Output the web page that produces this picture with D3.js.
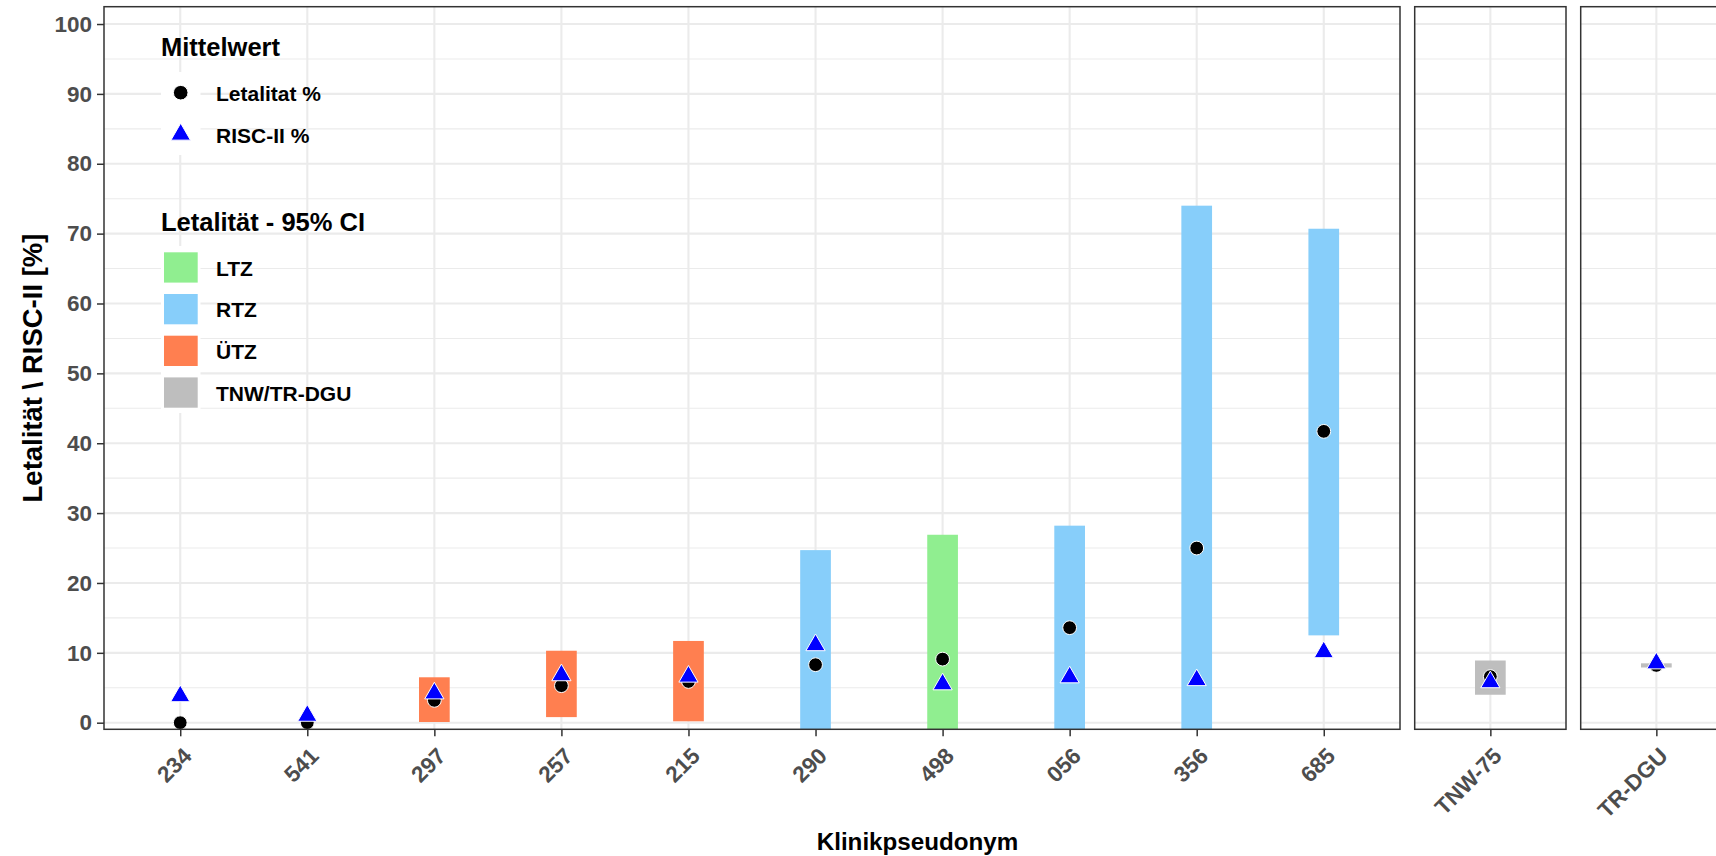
<!DOCTYPE html>
<html>
<head>
<meta charset="utf-8">
<script src="https://cdn.jsdelivr.net/npm/d3@7"></script>
<style>
  html, body { margin: 0; padding: 0; background: #fff; }
  svg { display: block; font-family: "Liberation Sans", Arial, sans-serif; }
</style>
</head>
<body>
<svg id="chart" width="1716" height="856"></svg>
<script>
// ---- data ----
const categories = ["234", "541", "297", "257", "215", "290", "498", "056", "356", "685", "TNW-75", "TR-DGU"];
const panelOf    = [0, 0, 0, 0, 0, 0, 0, 0, 0, 0, 1, 2];
const letalitaet = [0, 0, 3.2, 5.3, 5.9, 8.3, 9.1, 13.6, 25.0, 41.7, 6.6, 8.2];
const riscII     = [3.8, 1.0, 4.2, 6.8, 6.6, 11.1, 5.5, 6.5, 6.1, 10.1, 5.8, 8.5];
const ciLower    = [null, null, 0.1, 0.8, 0.2, -1, -1, -1, -1, 12.5, 4.0, 7.9];
const ciUpper    = [null, null, 6.5, 10.3, 11.7, 24.7, 26.9, 28.2, 74.0, 70.7, 8.9, 8.5];
const groups     = [null, null, "ÜTZ", "ÜTZ", "ÜTZ", "RTZ", "LTZ", "RTZ", "RTZ", "RTZ", "TNW/TR-DGU", "TNW/TR-DGU"];
const groupNames = ["LTZ", "RTZ", "ÜTZ", "TNW/TR-DGU"];
const groupColors = ["#90EE90", "#87CEFA", "#FF7F50", "#BEBEBE"];
const yTicks = [0, 10, 20, 30, 40, 50, 60, 70, 80, 90, 100];
const yMinor = [5, 15, 25, 35, 45, 55, 65, 75, 85, 95];
const meanLegend = ["Letalitat %", "RISC-II %"];

// ---- layout ----
const svg = d3.select("#chart");
const FONT = "'Liberation Sans', Arial, sans-serif";
const pTop = 6.7, pBottom = 729.3;
const panels = [
  {x0: 104, x1: 1400},
  {x0: 1414.7, x1: 1566},
  {x0: 1580.7, x1: 1732}
];
const y = d3.scaleLinear().domain([-0.945, 102.48]).range([pBottom, pTop]);
const color = d3.scaleOrdinal().domain(groupNames).range(groupColors);

const rows = categories.map((c, i) => ({
  cat: c, panel: panelOf[i], let: letalitaet[i], risc: riscII[i],
  lo: ciLower[i], hi: ciUpper[i], group: groups[i]
}));

panels.forEach((p, pi) => {
  const cats = categories.filter((c, i) => panelOf[i] === pi);
  p.x = d3.scalePoint().domain(cats).range([p.x0, p.x1]).padding(0.6);
});
const barW = 30.7;

const defs = svg.append("defs");
panels.forEach((p, pi) => {
  defs.append("clipPath").attr("id", "clip" + pi)
    .append("rect").attr("x", p.x0).attr("y", pTop).attr("width", p.x1 - p.x0).attr("height", pBottom - pTop);
});

const triSym = d3.symbol().type(d3.symbolTriangle).size(160);

panels.forEach((p, pi) => {
  const g = svg.append("g");
  g.append("rect").attr("x", p.x0).attr("y", pTop).attr("width", p.x1 - p.x0).attr("height", pBottom - pTop).attr("fill", "#fff");
  const grid = g.append("g").attr("clip-path", `url(#clip${pi})`);
  grid.selectAll(".ymin").data(yMinor).join("line")
    .attr("x1", p.x0).attr("x2", p.x1).attr("y1", d => y(d)).attr("y2", d => y(d))
    .attr("stroke", "#EBEBEB").attr("stroke-width", 1.1);
  grid.selectAll(".ymaj").data(yTicks).join("line")
    .attr("x1", p.x0).attr("x2", p.x1).attr("y1", d => y(d)).attr("y2", d => y(d))
    .attr("stroke", "#EBEBEB").attr("stroke-width", 2.1);
  grid.selectAll(".xmaj").data(p.x.domain()).join("line")
    .attr("x1", d => p.x(d)).attr("x2", d => p.x(d)).attr("y1", pTop).attr("y2", pBottom)
    .attr("stroke", "#EBEBEB").attr("stroke-width", 2.1);
  p.g = g;
});

// ---- legend key backgrounds (over grid, under data) ----
const lg = svg.append("g");
lg.append("rect").attr("x", 161).attr("y", 72).attr("width", 39.5).attr("height", 83).attr("fill", "#fff");
lg.append("rect").attr("x", 161).attr("y", 246).attr("width", 39.5).attr("height", 167).attr("fill", "#fff");

panels.forEach((p, pi) => {
  const d = rows.filter(r => r.panel === pi);
  const layer = svg.append("g").attr("clip-path", `url(#clip${pi})`);
  layer.selectAll(".bar").data(d.filter(r => r.lo !== null)).join("rect")
    .attr("x", r => p.x(r.cat) - barW / 2).attr("width", barW)
    .attr("y", r => y(r.hi)).attr("height", r => y(r.lo) - y(r.hi))
    .attr("fill", r => color(r.group));
  layer.selectAll(".pt").data(d).join("circle")
    .attr("cx", r => p.x(r.cat)).attr("cy", r => y(r.let)).attr("r", 6.9)
    .attr("fill", "#000").attr("stroke", "#fff").attr("stroke-width", 1);
  layer.selectAll(".tri").data(d).join("path")
    .attr("d", triSym)
    .attr("transform", r => `translate(${p.x(r.cat)},${y(r.risc)})`)
    .attr("fill", "#0000FF").attr("stroke", "#fff").attr("stroke-width", 1);
  svg.append("rect").attr("x", p.x0).attr("y", pTop).attr("width", p.x1 - p.x0).attr("height", pBottom - pTop)
    .attr("fill", "none").attr("stroke", "#333333").attr("stroke-width", 1.5);
  const ax = svg.append("g").attr("transform", `translate(0,${pBottom})`)
    .call(d3.axisBottom(p.x).tickSize(7).tickPadding(0));
  ax.select(".domain").remove();
  ax.selectAll(".tick line").attr("stroke", "#333333").attr("stroke-width", 1.5);
  ax.selectAll(".tick text")
    .attr("font-family", FONT).attr("font-size", 22.5).attr("font-weight", "bold").attr("fill", "#4D4D4D")
    .attr("text-anchor", "end").attr("dy", null).attr("y", null)
    .attr("transform", "translate(12.3,28) rotate(-45)");
});

// y axis (left panel only)
const yAx = svg.append("g").attr("transform", `translate(${panels[0].x0},0)`)
  .call(d3.axisLeft(y).tickValues(yTicks).tickSize(7).tickPadding(5));
yAx.select(".domain").remove();
yAx.selectAll(".tick line").attr("stroke", "#333333").attr("stroke-width", 1.5);
yAx.selectAll(".tick text")
  .attr("font-family", FONT).attr("font-size", 22.5).attr("font-weight", "bold").attr("fill", "#4D4D4D");

// axis titles
svg.append("text").attr("transform", `translate(42,368) rotate(-90)`)
  .attr("text-anchor", "middle").attr("font-family", FONT).attr("font-size", 27.5).attr("font-weight", "bold")
  .attr("fill", "#000").text("Letalität \\ RISC-II [%]");
svg.append("text").attr("x", 917.5).attr("y", 850)
  .attr("text-anchor", "middle").attr("font-family", FONT).attr("font-size", 24.2).attr("font-weight", "bold")
  .attr("fill", "#000").text("Klinikpseudonym");

// ---- legends ----
lg.append("text").attr("x", 161).attr("y", 56).attr("font-family", FONT).attr("font-size", 25.5)
  .attr("font-weight", "bold").attr("fill", "#000").text("Mittelwert");
lg.append("circle").attr("cx", 180.7).attr("cy", 92.7).attr("r", 7.3).attr("fill", "#000").attr("stroke", "#fff").attr("stroke-width", 1);
lg.append("path").attr("d", d3.symbol().type(d3.symbolTriangle).size(165)()).attr("transform", "translate(180.7,134.5)")
  .attr("fill", "#0000FF").attr("stroke", "#fff").attr("stroke-width", 1);
lg.selectAll(".ml").data(meanLegend).join("text")
  .attr("x", 216).attr("y", (d, i) => 101 + i * 41.7)
  .attr("font-family", FONT).attr("font-size", 21).attr("font-weight", "bold").attr("fill", "#000").text(d => d);

lg.append("text").attr("x", 161).attr("y", 230.7).attr("font-family", FONT).attr("font-size", 25.5)
  .attr("font-weight", "bold").attr("fill", "#000").text("Letalität - 95% CI");
lg.selectAll(".ck").data(groupNames).join("rect")
  .attr("x", 164).attr("y", (d, i) => 252.3 + i * 41.7).attr("width", 33.7).attr("height", 30.3)
  .attr("fill", d => color(d));
lg.selectAll(".cl").data(groupNames).join("text")
  .attr("x", 216).attr("y", (d, i) => 275.7 + i * 41.7)
  .attr("font-family", FONT).attr("font-size", 21).attr("font-weight", "bold").attr("fill", "#000").text(d => d);
</script>
</body>
</html>
